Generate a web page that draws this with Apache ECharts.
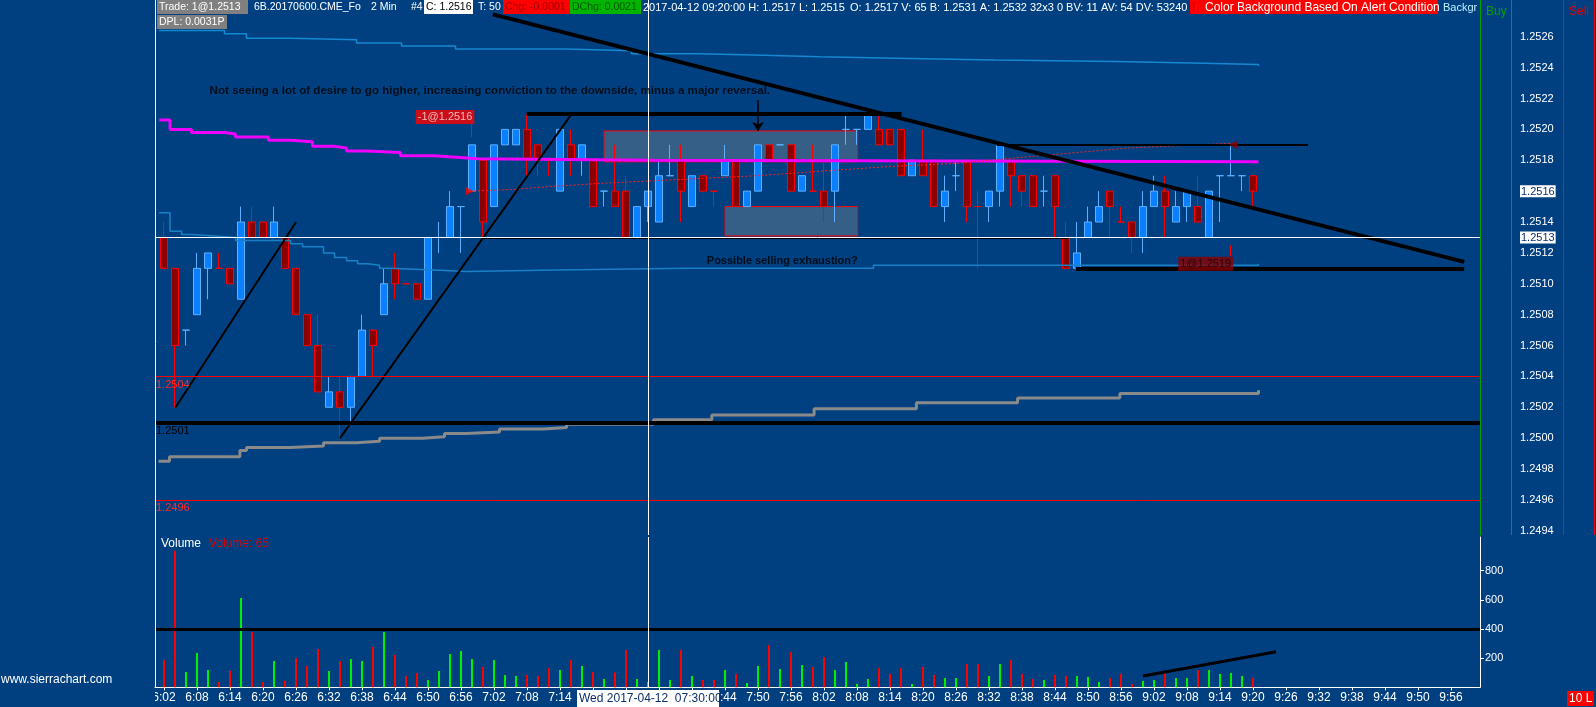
<!DOCTYPE html>
<html>
<head>
<meta charset="utf-8">
<title>6B.20170600.CME_Fo 2 Min</title>
<script src="https://cdn.jsdelivr.net/npm/echarts@6/dist/echarts.min.js"></script>
<style>
    html, body { margin: 0; padding: 0; background: #004080; }
    #chart { width: 1596px; height: 707px; }
</style>
</head>
<body>
<div id="chart"></div>
<script>
// one bar every 2 minutes, bar 0 = 6:02
const open = [
    1.2513, 1.2511, 1.2507, 1.2508, 1.2511, 1.2511, 1.2511, 1.2509, 1.2514, 1.2514,
    1.2513, 1.2513, 1.2511, 1.2508, 1.2506, 1.2502, 1.2503, 1.2502, 1.2504, 1.2507,
    1.2508, 1.2511, 1.2510, 1.2510, 1.2509, 1.2513, 1.2513, 1.2515, 1.2516, 1.2518,
    1.2515, 1.2519, 1.2519, 1.2520, 1.2519, 1.2518, 1.2516, 1.2519, 1.2518, 1.2518,
    1.2516, 1.2516, 1.2516, 1.2513, 1.2515, 1.2514, 1.2517, 1.2518, 1.2515, 1.2517,
    1.2516, 1.2517, 1.2518, 1.2515, 1.2516, 1.2519, 1.2519, 1.2519, 1.2516, 1.2516,
    1.2516, 1.2516, 1.2520, 1.2520, 1.2520, 1.2520, 1.2520, 1.2520, 1.2517, 1.2518,
    1.2518, 1.2515, 1.2517, 1.2518, 1.2515, 1.2515, 1.2516, 1.2518, 1.2517, 1.2517,
    1.2516, 1.2517, 1.2513, 1.2511, 1.2513, 1.2514, 1.2516, 1.2514, 1.2514, 1.2513,
    1.2515, 1.2516, 1.2514, 1.2515, 1.2515, 1.2513, 1.2517, 1.2517, 1.2517, 1.2517
];
const close = [
    1.2511, 1.2506, 1.2507, 1.2511, 1.2512, 1.2511, 1.2510, 1.2514, 1.2513, 1.2513,
    1.2514, 1.2511, 1.2508, 1.2506, 1.2503, 1.2503, 1.2502, 1.2504, 1.2507, 1.2506,
    1.2510, 1.2510, 1.2510, 1.2509, 1.2513, 1.2513, 1.2515, 1.2515, 1.2519, 1.2514,
    1.2519, 1.2520, 1.2520, 1.2518, 1.2518, 1.2518, 1.2520, 1.2518, 1.2519, 1.2515,
    1.2516, 1.2515, 1.2513, 1.2515, 1.2516, 1.2517, 1.2517, 1.2516, 1.2517, 1.2516,
    1.2516, 1.2518, 1.2515, 1.2516, 1.2519, 1.2518, 1.2519, 1.2516, 1.2517, 1.2516,
    1.2515, 1.2519, 1.2520, 1.2520, 1.2521, 1.2519, 1.2519, 1.2517, 1.2518, 1.2517,
    1.2515, 1.2516, 1.2517, 1.2515, 1.2515, 1.2516, 1.2519, 1.2517, 1.2516, 1.2515,
    1.2516, 1.2515, 1.2511, 1.2512, 1.2514, 1.2515, 1.2515, 1.2514, 1.2513, 1.2515,
    1.2516, 1.2515, 1.2515, 1.2516, 1.2514, 1.2516, 1.2517, 1.2517, 1.2517, 1.2516
];
const low = [
    1.2511, 1.2502, 1.2506, 1.2508, 1.2509, 1.2511, 1.2510, 1.2509, 1.2513, 1.2513,
    1.2513, 1.2511, 1.2508, 1.2506, 1.2503, 1.2502, 1.2500, 1.2501, 1.2504, 1.2504,
    1.2508, 1.2509, 1.2510, 1.2509, 1.2509, 1.2512, 1.2513, 1.2512, 1.2516, 1.2513,
    1.2515, 1.2519, 1.2519, 1.2517, 1.2517, 1.2517, 1.2516, 1.2517, 1.2517, 1.2515,
    1.2515, 1.2515, 1.2513, 1.2513, 1.2514, 1.2514, 1.2517, 1.2514, 1.2515, 1.2516,
    1.2515, 1.2517, 1.2515, 1.2515, 1.2516, 1.2518, 1.2519, 1.2516, 1.2516, 1.2516,
    1.2514, 1.2514, 1.2519, 1.2519, 1.2520, 1.2519, 1.2519, 1.2517, 1.2517, 1.2517,
    1.2515, 1.2514, 1.2516, 1.2514, 1.2511, 1.2514, 1.2515, 1.2515, 1.2515, 1.2515,
    1.2515, 1.2513, 1.2511, 1.2511, 1.2513, 1.2514, 1.2513, 1.2514, 1.2512, 1.2512,
    1.2515, 1.2513, 1.2514, 1.2514, 1.2514, 1.2513, 1.2514, 1.2517, 1.2516, 1.2515
];
const high = [
    1.2514, 1.2511, 1.2507, 1.2512, 1.2512, 1.2512, 1.2511, 1.2515, 1.2515, 1.2514,
    1.2515, 1.2513, 1.2511, 1.2508, 1.2508, 1.2504, 1.2504, 1.2504, 1.2508, 1.2507,
    1.2511, 1.2512, 1.2510, 1.2510, 1.2513, 1.2514, 1.2516, 1.2515, 1.2519, 1.2518,
    1.2519, 1.2520, 1.2520, 1.2521, 1.2519, 1.2518, 1.2520, 1.2520, 1.2519, 1.2518,
    1.2516, 1.2519, 1.2517, 1.2515, 1.2516, 1.2518, 1.2519, 1.2519, 1.2517, 1.2517,
    1.2516, 1.2519, 1.2518, 1.2516, 1.2519, 1.2519, 1.2519, 1.2519, 1.2517, 1.2519,
    1.2518, 1.2519, 1.2521, 1.2520, 1.2521, 1.2521, 1.2520, 1.2520, 1.2518, 1.2520,
    1.2518, 1.2517, 1.2518, 1.2518, 1.2516, 1.2516, 1.2519, 1.2518, 1.2517, 1.2517,
    1.2517, 1.2517, 1.2514, 1.2514, 1.2515, 1.2516, 1.2516, 1.2515, 1.2514, 1.2516,
    1.2517, 1.2517, 1.2516, 1.2516, 1.2517, 1.2516, 1.2517, 1.2519, 1.2517, 1.2517
];
const volume = [
    187, 937, 105, 235, 119, 37, 114, 613, 379, 37,
    181, 46, 201, 146, 263, 112, 181, 194, 181, 277,
    379, 222, 78, 98, 50, 112, 229, 249, 194, 139,
    187, 85, 78, 85, 78, 133, 119, 187, 146, 105,
    57, 101, 256, 57, 37, 256, 50, 256, 78, 50,
    50, 119, 91, 30, 146, 290, 126, 242, 153, 139,
    208, 119, 174, 23, 57, 133, 91, 133, 23, 139,
    85, 64, 64, 160, 160, 78, 160, 187, 91, 57,
    50, 85, 78, 78, 71, 37, 64, 91, 23, 43,
    50, 98, 64, 64, 119, 119, 91, 98, 78, 65
];
// bar colour as drawn (u = up / blue, d = down / red), also decides doji colour
const barDir = ('dduuuddudd' + 'udddduduud' + 'uddduuuuud' + 'uuudddudud' + 'udduuuudud' +
                'duduududud' + 'duuuudddud' + 'duudduuddd' + 'udduuudddu' + 'uduuduuuud').split('');

const timeTicks = ['6:02', '6:08', '6:14', '6:20', '6:26', '6:32', '6:38', '6:44', '6:50', '6:56',
                   '7:02', '7:08', '7:14', '7:20', '7:26', '7:32', '7:38', '7:44', '7:50', '7:56',
                   '8:02', '8:08', '8:14', '8:20', '8:26', '8:32', '8:38', '8:44', '8:50', '8:56',
                   '9:02', '9:08', '9:14', '9:20', '9:26', '9:32', '9:38', '9:44', '9:50', '9:56'];
const priceTicks = [1.2494, 1.2496, 1.2498, 1.2500, 1.2502, 1.2504, 1.2506, 1.2508, 1.2510,
                    1.2512, 1.2513, 1.2514, 1.2516, 1.2518, 1.2520, 1.2522, 1.2524, 1.2526];
const boxedPrices = ['1.2513', '1.2516'];
const volumeTicks = [200, 400, 600, 800];

// studies, [bar index, price] break points
const vwapX = [-0.45, 0.55, 2.5, 5.5, 6.5, 9.5, 11.5, 13.5, 15.5, 16.6, 18.5, 21.5, 24.5, 26.6, 28.5, 44.5, 99.5];
const vwapY = [1.25206, 1.25200, 1.25198, 1.25197, 1.25195, 1.25193, 1.25192, 1.25189, 1.25188, 1.25186,
               1.25185, 1.25183, 1.25182, 1.25181, 1.25180, 1.25179, 1.25179];
const upperX = [-0.45, 5.5, 7.5, 11.5, 17.5, 21.6, 26.5, 36.5, 42.5, 48.7, 54.5, 59.6, 66.5, 75.5, 86.5, 93.5, 99.5];
const upperY = [1.25264, 1.25262, 1.25259, 1.25258, 1.25256, 1.25254, 1.25252, 1.25251, 1.25249,
                1.25248, 1.25247, 1.25246, 1.25245, 1.25244, 1.25243, 1.25242, 1.25241];
const midX = [-0.45, 0.55, 1.6, 2.5, 4.6, 6.5, 11.5, 12.6, 14.5, 15.5, 16.6, 17.6, 18.5, 19.6, 20.5,
              24.5, 27.5, 35.7, 47.5, 64.5, 99.5];
const midY = [1.25146, 1.25134, 1.25132, 1.25131, 1.25130, 1.25128, 1.25126, 1.25124, 1.25120, 1.25117,
              1.25115, 1.25113, 1.25112, 1.25110, 1.25109, 1.25108, 1.25109, 1.25110, 1.25110, 1.25112, 1.25113];
const grayX = [-0.5, 0.5, 6.9, 7.5, 11.5, 14.5, 17.5, 19.6, 23.5, 25.5, 27.5, 30.5, 34.5, 36.6,
               44.5, 49.8, 59.1, 68.4, 77.6, 86.9, 99.5];
const grayY = [1.24985, 1.24988, 1.24992, 1.24994, 1.24995, 1.24997, 1.24998, 1.25000, 1.25001, 1.25003,
               1.25004, 1.25006, 1.25007, 1.25009, 1.25012, 1.25015, 1.25019, 1.25023, 1.25026, 1.25029, 1.25031];
const tradeX = [27.8, 31.5, 35.1, 39.6, 53.9, 59.9, 66.0, 72.1, 78.1, 87.8, 97.2];
const tradeY = [1.25160, 1.25161, 1.25163, 1.25165, 1.25170, 1.25173, 1.25176, 1.25178, 1.25182, 1.25188, 1.25191];

// drawings: [x1, price1, x2, price2]
const thinTrend = [
    [1.06, 1.2502, 12.0, 1.2514],
    [16.0, 1.2500, 37.06, 1.2521],
    [29.0, 1.2513, 82.1, 1.2513],
    [75.7, 1.2519, 104.0, 1.2519]
];
const heavyTrend = [
    [32.97, 1.2521, 67.06, 1.2521],
    [29.9, 1.252745, 118.2, 1.251142],
    [82.9, 1.2511, 118.2, 1.2511]
];
const stubs = [[27.97, 1.25204, 27.97, 1.25195], [96.9, 1.25125, 96.9, 1.25118]];
const arrows = [[54.0, 1.25219, 54.0, 1.25199]];
const boxes = [[40.0, 1.25199, 63.06, 1.25179], [51.0, 1.25150, 63.06, 1.25131]];
const levels = [1.2513, 1.2504, 1.2501, 1.2496];
const notes = [[4.1, 1.25225, 'Not seeing a lot of desire to go higher, increasing conviction to the downside, minus a major reversal.'],
               [49.3, 1.25115, 'Possible selling exhaustion?']];
const fills = [[25.55, 1.25208, '-1@1.2516'], [94.7, 1.25113, '1@1.2519']];
const fillMarks = [[27.8, 1.2516], [97.2, 1.2519]];
const volumeTrend = [[89.0, 77.5, 101.1, 244]];
const cursorBar = 44;

const xMin = -9 / 11, xMax = 1316 / 11;
const FONT = '"Liberation Sans", Arial, sans-serif';
const UP = '#0a80ff', UP_LINE = '#5cb0ff', DN = '#8b0000', DN_LINE = '#ff0000';

function steps(xs, ys) {
    return xs.map((x, i) => [x, ys[i]]);
}
function segs(list) {
    return list.map(s => ({ coords: [[s[0], s[1]], [s[2], s[3]]] }));
}

const candles = open.map((o, i) => {
    const up = barDir[i] === 'u';
    return {
        value: [i, o, close[i], low[i], high[i]],
        itemStyle: {
            color: up ? UP : DN, color0: up ? UP : DN,
            borderColor: up ? UP_LINE : DN_LINE, borderColor0: up ? UP_LINE : DN_LINE
        }
    };
});
const volBars = volume.map((v, i) => ({
    value: [i, v],
    itemStyle: { color: barDir[i] === 'u' ? '#00ee00' : '#ff0000' }
}));

const levelStyles = [
    { lineStyle: { color: '#ffffff', width: 1 }, label: { show: false } },
    { lineStyle: { color: '#ff0000', width: 1 }, label: { color: '#ff2a2a' } },
    { lineStyle: { color: '#000000', width: 4 }, label: { color: '#000000' } },
    { lineStyle: { color: '#ff0000', width: 1 }, label: { color: '#ff2a2a' } }
];
const fillStyles = [
    { backgroundColor: '#ff0000', color: '#ffe0e0' },
    { backgroundColor: '#8b0000', color: '#1a0000' }
];

function lineSeries(data, color, width, extra) {
    return Object.assign({
        type: 'line', xAxisIndex: 0, yAxisIndex: 0, data: data,
        showSymbol: false, symbol: 'none', silent: true, z: 3,
        lineStyle: { color: color, width: width }
    }, extra || {});
}

const chart = echarts.init(document.getElementById('chart'));

const option = {
    backgroundColor: '#004080',
    animation: false,
    textStyle: { fontFamily: FONT },
    grid: [
        { left: 155, right: 116, top: 0, height: 535 },
        { left: 155, right: 116, top: 537, height: 150.3 }
    ],
    xAxis: [
        { gridIndex: 0, type: 'value', min: xMin, max: xMax, show: false },
        {
            gridIndex: 1, type: 'value', min: xMin, max: xMax,
            splitLine: { show: false },
            axisLine: { onZero: false, lineStyle: { color: '#ffffff', width: 1 } },
            axisTick: { customValues: timeTicks.map((t, i) => i * 3), length: 3, lineStyle: { color: '#ffffff' } },
            axisLabel: {
                customValues: timeTicks.map((t, i) => i * 3),
                formatter: v => timeTicks[Math.round(v / 3)],
                color: '#ffffff', fontSize: 12, margin: 4, fontFamily: FONT
            }
        }
    ],
    yAxis: [
        {
            gridIndex: 0, type: 'value', position: 'right',
            min: 1.249373, max: 1.252838, scale: true,
            splitLine: { show: false },
            axisLine: { show: true, onZero: false, lineStyle: { color: '#00a000', width: 1 } },
            axisTick: { show: false },
            axisLabel: {
                customValues: priceTicks, margin: 40, color: '#ffffff', fontSize: 11, fontFamily: FONT,
                formatter: v => {
                    const s = v.toFixed(4);
                    return boxedPrices.indexOf(s) >= 0 ? '{box|' + s + '}' : s;
                },
                rich: { box: { backgroundColor: '#ffffff', color: '#0b2f6b', fontSize: 11, padding: [1, 1, 0, 1], fontFamily: FONT } }
            }
        },
        {
            gridIndex: 1, type: 'value', position: 'right', min: 0, max: 1031,
            splitLine: { show: false },
            axisLine: { show: true, onZero: false, lineStyle: { color: '#ffffff', width: 1 } },
            axisTick: { show: true, customValues: volumeTicks, length: 4, lineStyle: { color: '#ffffff' } },
            axisLabel: { customValues: volumeTicks, margin: 5, color: '#ffffff', fontSize: 11, fontFamily: FONT }
        }
    ],
    series: [
        {
            name: 'Price', type: 'candlestick', xAxisIndex: 0, yAxisIndex: 0,
            encode: { x: 0, y: [1, 2, 3, 4] },
            barWidth: 7, z: 2, silent: true,
            data: candles,
            itemStyle: { color: UP, color0: DN, borderColor: UP_LINE, borderColor0: DN_LINE, borderWidth: 1 },
            markArea: {
                silent: true,
                itemStyle: { color: 'rgba(150,150,150,0.36)', borderColor: '#ff0000', borderWidth: 1 },
                data: boxes.map(b => [{ coord: [b[0], b[1]] }, { coord: [b[2], b[3]] }])
            }
        },
        lineSeries(steps(upperX, upperY), '#1488d0', 1.5, { step: 'end' }),
        lineSeries(steps(midX, midY), '#1a80c6', 1.5, { step: 'end' }),
        lineSeries(steps(grayX, grayY), '#8a8a8a', 3, {
            step: 'end',
            // horizontal levels and the cursor line of the price pane
            markLine: {
                silent: true, symbol: 'none', precision: 5,
                data: levels.map((p, i) => ({
                    yAxis: p,
                    lineStyle: Object.assign({ type: 'solid' }, levelStyles[i].lineStyle),
                    label: Object.assign({
                        show: true, position: 'insideStartBottom', distance: [1, 3],
                        formatter: p.toFixed(4), fontSize: 11, fontFamily: FONT
                    }, levelStyles[i].label)
                })).concat([{
                    xAxis: cursorBar, lineStyle: { color: '#ffffff', width: 1, type: 'solid' }, label: { show: false }
                }])
            }
        }),
        lineSeries(steps(vwapX, vwapY), '#f000ff', 3, { step: 'end' }),
        lineSeries(steps(tradeX, tradeY), '#ff2020', 1, { lineStyle: { color: '#ff2020', width: 1, type: [2, 2] } }),
        {
            type: 'lines', coordinateSystem: 'cartesian2d', xAxisIndex: 0, yAxisIndex: 0,
            silent: true, z: 4, lineStyle: { color: '#000000', width: 2, opacity: 1 },
            data: segs(thinTrend)
        },
        {
            type: 'lines', coordinateSystem: 'cartesian2d', xAxisIndex: 0, yAxisIndex: 0,
            silent: true, z: 4, lineStyle: { color: '#000000', width: 4, opacity: 1 },
            data: segs(heavyTrend)
        },
        {
            type: 'lines', coordinateSystem: 'cartesian2d', xAxisIndex: 0, yAxisIndex: 0,
            silent: true, z: 4, lineStyle: { color: '#ff0000', width: 1, opacity: 1 },
            data: segs(stubs)
        },
        {
            type: 'lines', coordinateSystem: 'cartesian2d', xAxisIndex: 0, yAxisIndex: 0,
            silent: true, z: 4, symbol: ['none', 'arrow'], symbolSize: 9,
            lineStyle: { color: '#000000', width: 1.5, opacity: 1 },
            data: segs(arrows)
        },
        {
            type: 'scatter', xAxisIndex: 0, yAxisIndex: 0, silent: true, z: 5,
            symbol: 'triangle', symbolSize: 8,
            data: fillMarks.map((m, i) => ({
                value: m, symbolRotate: i === 0 ? -90 : 90,
                itemStyle: { color: i === 0 ? '#ff0000' : '#8b0000' }
            }))
        },
        {
            type: 'scatter', xAxisIndex: 0, yAxisIndex: 0, silent: true, z: 6,
            symbolSize: 1, itemStyle: { color: 'rgba(0,0,0,0)' },
            data: notes.map((n, i) => ({
                value: [n[0], n[1]], name: n[2],
                label: { fontSize: i === 0 ? 11.6 : 11 }
            })),
            label: {
                show: true, position: 'right', distance: 0, formatter: '{b}',
                color: '#000000', fontWeight: 'bold', fontSize: 11, fontFamily: FONT
            }
        },
        {
            type: 'scatter', xAxisIndex: 0, yAxisIndex: 0, silent: true, z: 6,
            symbolSize: 1, itemStyle: { color: 'rgba(0,0,0,0)' },
            data: fills.map((f, i) => ({
                value: [f[0], f[1]], name: f[2],
                label: Object.assign({}, fillStyles[i])
            })),
            label: {
                show: true, position: 'inside', formatter: '{b}', fontSize: 11,
                fontFamily: FONT, padding: [2, 2, 1, 2]
            }
        },
        {
            name: 'Volume', type: 'bar', xAxisIndex: 1, yAxisIndex: 1,
            barWidth: 2, silent: true, z: 2,
            data: volBars,
            markLine: {
                silent: true, symbol: 'none',
                data: [
                    { yAxis: 400, lineStyle: { color: '#000000', width: 3, type: 'solid' }, label: { show: false } },
                    { xAxis: cursorBar, lineStyle: { color: '#ffffff', width: 1, type: 'solid' }, label: { show: false } }
                ]
            }
        },
        {
            type: 'lines', coordinateSystem: 'cartesian2d', xAxisIndex: 1, yAxisIndex: 1,
            silent: true, z: 4, lineStyle: { color: '#000000', width: 3, opacity: 1 },
            data: segs(volumeTrend)
        }
    ]
};

chart.setOption(option);

// chart header, DOM columns and labels drawn by Sierra Chart around the panes
function tag(x, y, w, h, text, bg, fg, size) {
    return [
        { type: 'rect', z: 100, shape: { x: x, y: y, width: w, height: h }, style: { fill: bg } },
        { type: 'text', z: 101, x: x + 2, y: y + h / 2 + 0.5,
          style: { text: text, fill: fg, font: (size || 10.5) + 'px ' + FONT, verticalAlign: 'middle' } }
    ];
}
function txt(x, y, text, fg, size, align) {
    return { type: 'text', z: 101, x: x, y: y,
             style: { text: text, fill: fg, font: (size || 10.5) + 'px ' + FONT, verticalAlign: 'middle', align: align || 'left' } };
}
function vline(x, y1, y2, color) {
    return { type: 'line', z: 99, shape: { x1: x, y1: y1, x2: x, y2: y2 }, style: { stroke: color, lineWidth: 1 } };
}

const cx = Math.round(chart.convertToPixel({ xAxisIndex: 1 }, cursorBar));

const graphics = [].concat(
    [{ type: 'rect', z: 98, shape: { x: 0, y: 689, width: 155, height: 18 }, style: { fill: '#004080' } },
     vline(155.5, 0, 687.5, '#ffffff'), vline(1511.5, 0, 535, '#00a000'),
     vline(1563.5, 0, 535, '#ff0000'), vline(1594.5, 0, 535, '#ff0000')],
    tag(157, 0, 91, 14, 'Trade: 1@1.2513', '#808080', '#ffffff'),
    [txt(254, 7.5, '6B.20170600.CME_Fo', '#ffffff'), txt(371, 7.5, '2 Min', '#ffffff'), txt(411, 7.5, '#4', '#ffffff')],
    tag(424, 0, 49, 14, 'C: 1.2516', '#ffffff', '#000000'),
    [txt(478, 7.5, 'T: 50', '#ffffff')],
    tag(503, 0, 67, 14, 'Chg: -0.0001', '#ff0000', '#9a0000'),
    tag(570, 0, 71, 14, 'DChg: 0.0021', '#00b400', '#005a00'),
    [txt(643, 7.5, '2017-04-12 09:20:00 H: 1.2517 L: 1.2515', '#ffffff', 11),
     txt(850, 7.5, 'O: 1.2517 V: 65 B: 1.2531 A: 1.2532 32x3 0 BV: 11 AV: 54 DV: 53240', '#ffffff', 11)],
    tag(1190, 0, 248, 14, '!', '#ff0000', '#9a0000', 12),
    [txt(1205, 7.5, 'Color Background Based On Alert Condition', '#ffffff', 12),
     txt(1443, 7.5, 'Backgr', '#bff0ff', 11),
     txt(1486, 12, 'Buy', '#00a000', 12), txt(1569, 12, 'Sell', '#e00000', 12)],
    tag(157, 15, 70, 14, 'DPL: 0.0031P', '#808080', '#ffffff'),
    [txt(161, 544, 'Volume', '#ffffff', 12), txt(209, 544, 'Volume: 65', '#e00000', 12),
     txt(1, 680, 'www.sierrachart.com', '#ffffff', 12)],
    tag(1567, 691, 27, 15, '10 L', '#ff0000', '#ffffff', 12),
    tag(cx - 71, 690, 142, 17, 'Wed 2017-04-12  07:30:00', '#ffffff', '#0b2f6b', 12)
);

chart.setOption({ graphic: { elements: graphics } });
</script>
</body>
</html>
